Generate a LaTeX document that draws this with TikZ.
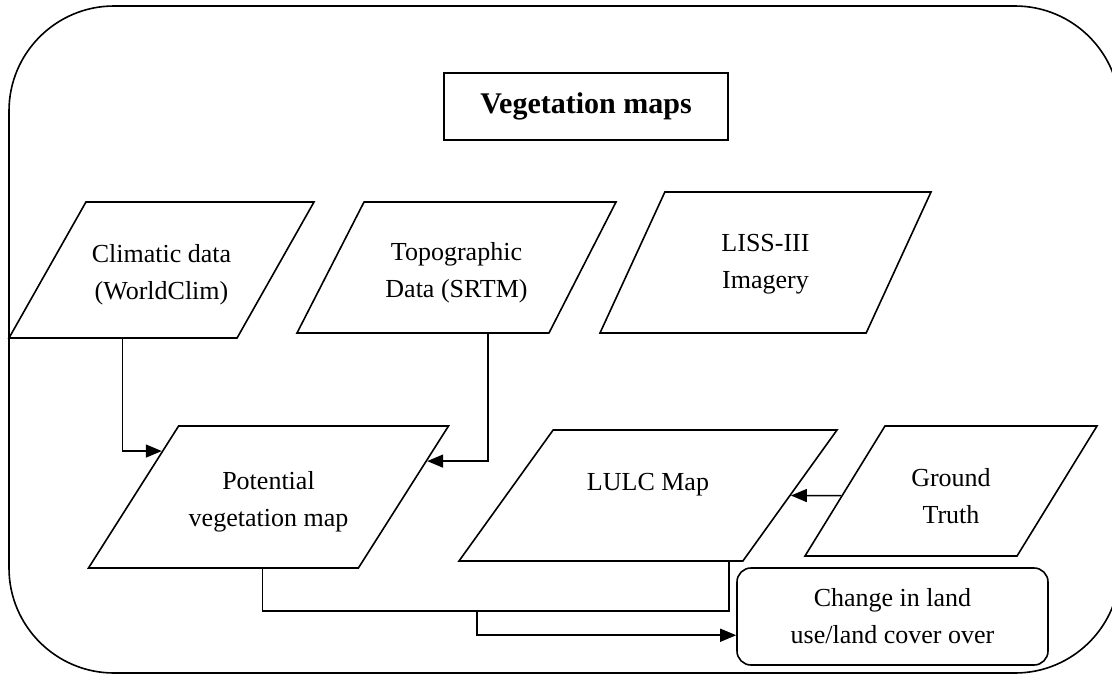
\documentclass[tikz,border=0pt]{standalone}
\usepackage{fontspec}
\setmainfont{Liberation Serif}
\usetikzlibrary{arrows.meta,shapes.geometric,calc}

\newcommand{\boxtext}[1]{\begin{tabular}{@{}c@{}}#1\end{tabular}}

\begin{document}
\begin{tikzpicture}[
    x=1pt, y=-1pt,
    >={Triangle[length=16pt,width=13pt]},
    databox/.style={trapezium, trapezium stretches body, draw, line width=1.6pt,
                 inner ysep=0pt, font=\fontsize{26}{37}\selectfont,
                 trapezium left angle=#1, trapezium right angle=180-#1},
    plainbox/.style={draw, line width=1.6pt, align=center,
                 font=\fontsize{26}{37}\selectfont},
    arrow/.style={->, line width=1.5pt},
    link/.style={line width=1.5pt},
]
\clip (0,0) rectangle (1112,675);
\draw[line width=1.6pt, rounded corners=105pt] (9,6) rectangle (1120,673);

\node[plainbox, minimum width=284pt, minimum height=67pt,
      font=\fontsize{30}{37}\selectfont\bfseries] (title) at (586,106.5) {Vegetation maps};

% inputs
\node[databox=60.5, minimum width=305pt, text height=77.5pt, text depth=58.5pt] (clim) at (161.5,270) {\boxtext{Climatic data\\(WorldClim)}};
\node[databox=62.9, minimum width=319pt, text height=75.5pt, text depth=55.5pt] (topo) at (456.5,267.5) {\boxtext{Topographic\\Data (SRTM)}};
\node[databox=65.3, minimum width=331pt, text height=77pt, text depth=64pt] (liss) at (765.5,262.5) {\boxtext{LISS-III\\Imagery}};

% derived maps
\node[databox=57.6, minimum width=360pt, text height=80.5pt, text depth=61.5pt] (pot) at (268.5,497) {\boxtext{Potential\\vegetation map}};
\node[databox=54.3, minimum width=378pt, text height=59.5pt, text depth=71.5pt] (lulc) at (648,495.5) {\boxtext{LULC Map}};
\node[databox=58.4, minimum width=292pt, text height=77.5pt, text depth=52.5pt] (gt) at (951,491) {\boxtext{Ground\\Truth}};

\node[plainbox, rounded corners=14pt, minimum width=311pt, minimum height=97pt] (chg) at (892.5,616.5) {Change in land\\use/land cover over};

\coordinate (potout) at ($(pot.bottom left corner)!0.646!(pot.bottom right corner)$);
\coordinate (lulcout) at ($(lulc.bottom left corner)!0.95!(lulc.bottom right corner)$);
\coordinate (gtin) at ($(gt.top left corner)!0.535!(gt.bottom left corner)$);
\coordinate (merge) at (477,611);

\draw[arrow] (clim.bottom side) |- ($(pot.top left corner)!0.18!(pot.bottom left corner)$);
\draw[arrow] ($(topo.bottom left corner)!0.757!(topo.bottom right corner)$) |- ($(pot.top right corner)!0.25!(pot.bottom right corner)$);
\draw[arrow] (gtin) -- (lulc.right side);
\draw[link] (potout) |- (merge) -| (lulcout);
\draw[arrow] (merge) |- ($(chg.south west)!0.31!(chg.north west)$);
\end{tikzpicture}
\end{document}
